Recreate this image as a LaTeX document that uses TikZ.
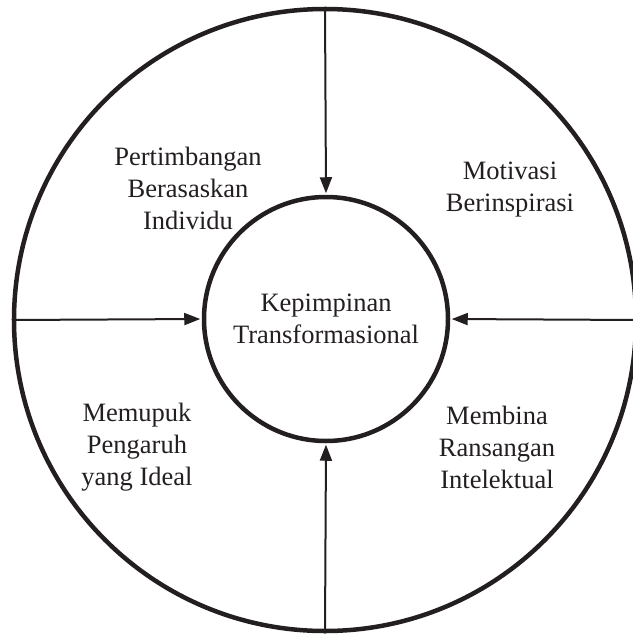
\documentclass[tikz,border=0pt]{standalone}
\usepackage{fontspec}
\setmainfont{Liberation Serif}
\usepackage{tikz}
\usetikzlibrary{arrows.meta, positioning}
\definecolor{ink}{RGB}{35,31,32}

\begin{document}
\begin{tikzpicture}[
  x=1pt, y=-1pt,
  ring/.style={circle, draw=ink, line width=4.5pt, inner sep=0pt},
  label_text/.style={font=\fontsize{26.5}{32}\selectfont, color=ink, align=center},
  feed/.style={-{Triangle[length=16pt,width=12pt]}, draw=ink, line width=2pt, shorten >=1.5pt}
]
\useasboundingbox (0,0) rectangle (632,640);
\node[ring, minimum size=622pt] (outer) at (325,320) {};
\node[ring, minimum size=244pt, label_text] (core) at (326,319) {Kepimpinan\\Transformasional};
% four dimensions
\node[label_text] (individu) at (188,188) {Pertimbangan\\Berasaskan\\Individu};
\node[label_text] (motivasi) at (510,190) {Motivasi\\Berinspirasi};
\node[label_text] (pengaruh) at (137,447) {Memupuk\\Pengaruh\\yang Ideal};
\node[label_text] (intelek) at (497,447) {Membina\\Ransangan\\Intelektual};
% arrows into the centre
\draw[feed] (outer.north) -- (core.north);
\draw[feed] (outer.south) -- (core.south);
\draw[feed] (outer.west) -- (core.west);
\draw[feed] (outer.east) -- (core.east);
\end{tikzpicture}
\end{document}
